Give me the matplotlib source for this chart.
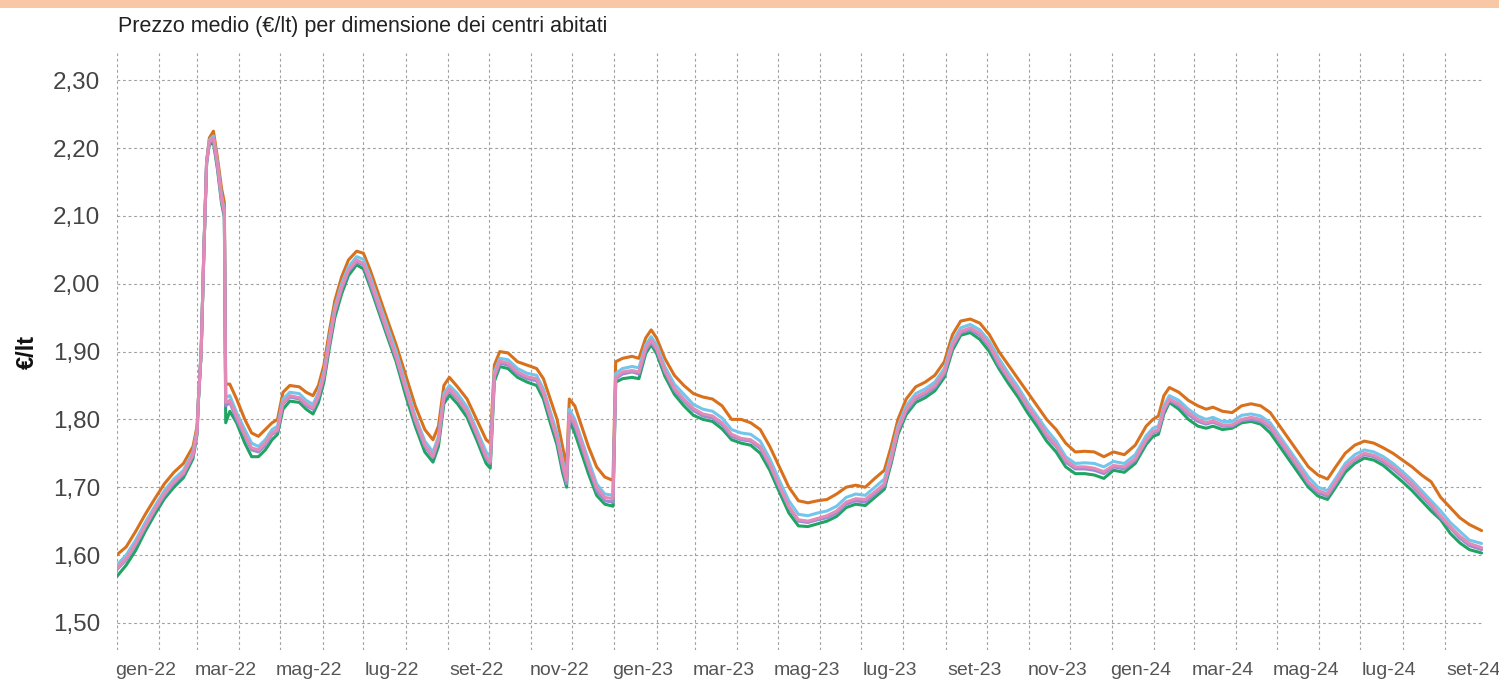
import matplotlib
matplotlib.use("Agg")
import matplotlib.pyplot as plt
import matplotlib.dates as mdates
from matplotlib.patches import Rectangle
from matplotlib.ticker import FixedLocator, FuncFormatter, NullFormatter
import pandas as pd

# ---------------- data ----------------
dates = [
    "2022-01-01", "2022-01-08", "2022-01-15", "2022-01-22", "2022-01-29", "2022-02-05",
    "2022-02-12", "2022-02-19", "2022-02-26", "2022-03-01", "2022-03-02", "2022-03-04",
    "2022-03-06", "2022-03-08", "2022-03-10", "2022-03-13", "2022-03-16", "2022-03-19",
    "2022-03-21", "2022-03-22", "2022-03-25", "2022-03-30", "2022-04-05", "2022-04-10",
    "2022-04-15", "2022-04-20", "2022-04-25", "2022-04-29", "2022-05-03", "2022-05-08",
    "2022-05-15", "2022-05-20", "2022-05-25", "2022-05-29", "2022-06-02", "2022-06-06",
    "2022-06-10", "2022-06-15", "2022-06-20", "2022-06-26", "2022-07-01", "2022-07-06",
    "2022-07-12", "2022-07-18", "2022-07-25", "2022-08-01", "2022-08-08", "2022-08-15",
    "2022-08-21", "2022-08-25", "2022-08-29", "2022-09-02", "2022-09-08", "2022-09-15",
    "2022-09-22", "2022-09-29", "2022-10-02", "2022-10-05", "2022-10-09", "2022-10-15",
    "2022-10-22", "2022-10-29", "2022-11-05", "2022-11-10", "2022-11-15", "2022-11-20",
    "2022-11-24", "2022-11-27", "2022-11-29", "2022-12-03", "2022-12-08", "2022-12-13",
    "2022-12-19", "2022-12-25", "2022-12-31", "2023-01-02", "2023-01-07", "2023-01-14",
    "2023-01-19", "2023-01-24", "2023-01-28", "2023-02-01", "2023-02-07", "2023-02-14",
    "2023-02-21", "2023-02-28", "2023-03-07", "2023-03-14", "2023-03-21", "2023-03-28",
    "2023-04-04", "2023-04-11", "2023-04-18", "2023-04-25", "2023-05-02", "2023-05-09",
    "2023-05-16", "2023-05-23", "2023-05-30", "2023-06-06", "2023-06-13", "2023-06-20",
    "2023-06-27", "2023-07-04", "2023-07-11", "2023-07-18", "2023-07-23", "2023-07-28",
    "2023-08-03", "2023-08-10", "2023-08-17", "2023-08-24", "2023-08-31", "2023-09-06",
    "2023-09-12", "2023-09-19", "2023-09-26", "2023-10-03", "2023-10-10", "2023-10-17",
    "2023-10-24", "2023-10-31", "2023-11-07", "2023-11-14", "2023-11-21", "2023-11-28",
    "2023-12-05", "2023-12-12", "2023-12-19", "2023-12-26", "2024-01-02", "2024-01-10",
    "2024-01-18", "2024-01-26", "2024-01-31", "2024-02-04", "2024-02-08", "2024-02-12",
    "2024-02-19", "2024-02-26", "2024-03-04", "2024-03-10", "2024-03-15", "2024-03-22",
    "2024-03-29", "2024-04-05", "2024-04-12", "2024-04-19", "2024-04-26", "2024-05-03",
    "2024-05-10", "2024-05-17", "2024-05-24", "2024-05-31", "2024-06-07", "2024-06-13",
    "2024-06-20", "2024-06-27", "2024-07-04", "2024-07-11", "2024-07-18", "2024-07-25",
    "2024-08-01", "2024-08-08", "2024-08-15", "2024-08-22", "2024-08-29", "2024-09-05",
    "2024-09-12", "2024-09-19", "2024-09-28",
]

orange = [
    1.600, 1.612, 1.635, 1.660, 1.683, 1.705, 1.722, 1.735, 1.760, 1.790, 1.830, 1.900,
    2.050, 2.180, 2.215, 2.225, 2.185, 2.140, 2.120, 1.852, 1.852, 1.830, 1.800, 1.780,
    1.775, 1.785, 1.795, 1.800, 1.840, 1.850, 1.848, 1.840, 1.835, 1.850, 1.880, 1.930,
    1.975, 2.010, 2.035, 2.048, 2.045, 2.020, 1.985, 1.950, 1.910, 1.865, 1.820, 1.785,
    1.770, 1.790, 1.850, 1.862, 1.848, 1.830, 1.800, 1.770, 1.765, 1.880, 1.900, 1.898,
    1.885, 1.880, 1.875, 1.860, 1.830, 1.800, 1.760, 1.730, 1.830, 1.820, 1.790, 1.760,
    1.730, 1.715, 1.710, 1.885, 1.890, 1.893, 1.890, 1.920, 1.932, 1.920, 1.890, 1.865,
    1.850, 1.838, 1.833, 1.830, 1.820, 1.800, 1.800, 1.795, 1.785, 1.760, 1.730, 1.700,
    1.680, 1.677, 1.680, 1.682, 1.690, 1.700, 1.703, 1.700, 1.713, 1.725, 1.760, 1.800,
    1.830, 1.848, 1.855, 1.865, 1.885, 1.925, 1.945, 1.948, 1.942, 1.925, 1.900, 1.880,
    1.860, 1.840, 1.820, 1.800, 1.785, 1.765, 1.752, 1.753, 1.752, 1.745, 1.752, 1.748,
    1.762, 1.790, 1.800, 1.805, 1.835, 1.847, 1.840, 1.828, 1.820, 1.815, 1.818, 1.812,
    1.810, 1.820, 1.823, 1.820, 1.810, 1.790, 1.770, 1.750, 1.730, 1.718, 1.712, 1.730,
    1.750, 1.762, 1.768, 1.765, 1.758, 1.750, 1.740, 1.730, 1.718, 1.708, 1.685, 1.670,
    1.655, 1.645, 1.636,
]

blue = [
    1.585, 1.600, 1.622, 1.648, 1.672, 1.695, 1.712, 1.725, 1.752, 1.785, 1.830, 1.900,
    2.050, 2.180, 2.212, 2.218, 2.178, 2.130, 2.108, 1.832, 1.835, 1.810, 1.785, 1.765,
    1.760, 1.770, 1.785, 1.790, 1.830, 1.840, 1.838, 1.828, 1.822, 1.840, 1.870, 1.920,
    1.965, 2.000, 2.025, 2.040, 2.036, 2.010, 1.975, 1.940, 1.900, 1.852, 1.805, 1.768,
    1.752, 1.775, 1.838, 1.850, 1.838, 1.818, 1.785, 1.752, 1.745, 1.870, 1.890, 1.888,
    1.875, 1.868, 1.865, 1.845, 1.812, 1.780, 1.740, 1.715, 1.815, 1.800, 1.770, 1.740,
    1.705, 1.690, 1.688, 1.868, 1.875, 1.878, 1.876, 1.910, 1.922, 1.910, 1.878, 1.852,
    1.837, 1.822, 1.815, 1.812, 1.802, 1.785, 1.780, 1.778, 1.768, 1.742, 1.710, 1.680,
    1.660, 1.658, 1.662, 1.665, 1.672, 1.685, 1.690, 1.688, 1.700, 1.712, 1.748, 1.790,
    1.820, 1.838, 1.845, 1.855, 1.875, 1.915, 1.935, 1.940, 1.932, 1.915, 1.890, 1.868,
    1.848, 1.825, 1.805, 1.785, 1.768, 1.745, 1.735, 1.736, 1.735, 1.730, 1.738, 1.735,
    1.748, 1.776, 1.787, 1.790, 1.820, 1.835, 1.828, 1.815, 1.805, 1.800, 1.803, 1.797,
    1.797, 1.806, 1.808, 1.805, 1.795, 1.775, 1.755, 1.735, 1.715, 1.700, 1.695, 1.713,
    1.735, 1.748, 1.755, 1.752, 1.745, 1.735, 1.723, 1.710, 1.695, 1.680, 1.665, 1.648,
    1.635, 1.622, 1.617,
]

pink = [
    1.580, 1.595, 1.617, 1.643, 1.668, 1.690, 1.708, 1.721, 1.748, 1.782, 1.830, 1.900,
    2.050, 2.180, 2.210, 2.215, 2.175, 2.125, 2.105, 1.825, 1.828, 1.805, 1.778, 1.758,
    1.755, 1.765, 1.780, 1.785, 1.825, 1.835, 1.832, 1.823, 1.817, 1.835, 1.865, 1.915,
    1.960, 1.995, 2.020, 2.035, 2.030, 2.005, 1.970, 1.933, 1.893, 1.846, 1.800, 1.763,
    1.746, 1.770, 1.833, 1.845, 1.832, 1.812, 1.780, 1.745, 1.738, 1.865, 1.886, 1.883,
    1.870, 1.863, 1.860, 1.840, 1.806, 1.773, 1.735, 1.710, 1.808, 1.795, 1.765, 1.733,
    1.700, 1.685, 1.683, 1.862, 1.870, 1.872, 1.870, 1.905, 1.917, 1.905, 1.872, 1.846,
    1.830, 1.816, 1.808, 1.805, 1.795, 1.778, 1.772, 1.770, 1.760, 1.735, 1.702, 1.672,
    1.652, 1.650, 1.654, 1.658, 1.665, 1.678, 1.683, 1.682, 1.693, 1.705, 1.742, 1.785,
    1.815, 1.833, 1.840, 1.850, 1.870, 1.910, 1.930, 1.935, 1.927, 1.910, 1.884, 1.862,
    1.842, 1.820, 1.800, 1.778, 1.762, 1.740, 1.730, 1.730, 1.728, 1.723, 1.732, 1.730,
    1.742, 1.770, 1.782, 1.785, 1.815, 1.830, 1.823, 1.810, 1.800, 1.795, 1.798, 1.792,
    1.792, 1.800, 1.803, 1.800, 1.790, 1.770, 1.750, 1.730, 1.708, 1.695, 1.690, 1.708,
    1.730, 1.742, 1.750, 1.747, 1.740, 1.730, 1.718, 1.705, 1.690, 1.675, 1.658, 1.642,
    1.628, 1.617, 1.611,
]

purple = [
    1.578, 1.593, 1.615, 1.641, 1.666, 1.688, 1.706, 1.719, 1.746, 1.780, 1.830, 1.900,
    2.050, 2.180, 2.208, 2.212, 2.172, 2.122, 2.102, 1.820, 1.825, 1.800, 1.775, 1.755,
    1.752, 1.762, 1.778, 1.783, 1.823, 1.833, 1.830, 1.820, 1.815, 1.832, 1.862, 1.912,
    1.958, 1.992, 2.018, 2.032, 2.028, 2.000, 1.965, 1.930, 1.890, 1.843, 1.797, 1.760,
    1.744, 1.768, 1.830, 1.842, 1.830, 1.810, 1.777, 1.742, 1.735, 1.862, 1.883, 1.880,
    1.867, 1.860, 1.857, 1.837, 1.803, 1.770, 1.730, 1.705, 1.805, 1.790, 1.760, 1.730,
    1.695, 1.680, 1.678, 1.860, 1.867, 1.870, 1.867, 1.902, 1.914, 1.902, 1.870, 1.843,
    1.827, 1.813, 1.805, 1.802, 1.792, 1.775, 1.770, 1.768, 1.757, 1.732, 1.700, 1.670,
    1.650, 1.648, 1.652, 1.655, 1.662, 1.675, 1.680, 1.678, 1.690, 1.702, 1.740, 1.783,
    1.812, 1.830, 1.837, 1.847, 1.867, 1.907, 1.928, 1.932, 1.924, 1.907, 1.880, 1.860,
    1.840, 1.817, 1.797, 1.775, 1.760, 1.737, 1.727, 1.727, 1.725, 1.720, 1.730, 1.727,
    1.740, 1.768, 1.780, 1.783, 1.812, 1.828, 1.820, 1.807, 1.797, 1.793, 1.796, 1.790,
    1.790, 1.798, 1.800, 1.797, 1.787, 1.767, 1.747, 1.727, 1.705, 1.692, 1.687, 1.705,
    1.728, 1.740, 1.748, 1.745, 1.737, 1.727, 1.715, 1.702, 1.687, 1.672, 1.655, 1.640,
    1.625, 1.614, 1.608,
]

green = [
    1.568, 1.585, 1.607, 1.635, 1.660, 1.683, 1.700, 1.714, 1.742, 1.778, 1.828, 1.898,
    2.048, 2.178, 2.205, 2.208, 2.168, 2.118, 2.098, 1.795, 1.812, 1.795, 1.765, 1.745,
    1.745, 1.755, 1.770, 1.778, 1.815, 1.827, 1.825, 1.815, 1.808, 1.825, 1.855, 1.905,
    1.950, 1.985, 2.012, 2.028, 2.022, 1.995, 1.960, 1.925, 1.885, 1.835, 1.790, 1.752,
    1.737, 1.760, 1.823, 1.836, 1.823, 1.803, 1.770, 1.735, 1.728, 1.856, 1.878, 1.875,
    1.862, 1.855, 1.850, 1.830, 1.795, 1.762, 1.722, 1.700, 1.798, 1.780, 1.750, 1.720,
    1.688, 1.675, 1.672, 1.855, 1.860, 1.862, 1.860, 1.897, 1.910, 1.897, 1.864, 1.837,
    1.820, 1.806, 1.800, 1.797, 1.786, 1.770, 1.765, 1.762, 1.750, 1.725, 1.693, 1.662,
    1.643, 1.642, 1.646, 1.650, 1.657, 1.670, 1.675, 1.673, 1.685, 1.697, 1.735, 1.778,
    1.807, 1.825, 1.832, 1.842, 1.862, 1.902, 1.924, 1.928, 1.918, 1.900, 1.875, 1.853,
    1.833, 1.810, 1.790, 1.768, 1.752, 1.730, 1.720, 1.720, 1.718, 1.713, 1.725, 1.722,
    1.735, 1.763, 1.775, 1.778, 1.808, 1.825, 1.815, 1.800, 1.790, 1.787, 1.790, 1.785,
    1.787, 1.795, 1.797, 1.793, 1.780, 1.760, 1.740, 1.720, 1.700, 1.687, 1.682, 1.700,
    1.722, 1.735, 1.743, 1.740, 1.732, 1.720, 1.708, 1.695, 1.680, 1.665, 1.652, 1.632,
    1.618, 1.608, 1.603,
]

series_names = ["Orange", "Green", "Blue", "Purple", "Pink"]
tick_labels = ["gen-22", "mar-22", "mag-22", "lug-22", "set-22", "nov-22",
               "gen-23", "mar-23", "mag-23", "lug-23", "set-23", "nov-23",
               "gen-24", "mar-24", "mag-24", "lug-24", "set-24"]
label_dates = ["2022-01-22", "2022-03-22", "2022-05-22", "2022-07-22", "2022-09-22",
               "2022-11-22", "2023-01-22", "2023-03-22", "2023-05-22", "2023-07-22",
               "2023-09-22", "2023-11-22", "2024-01-22", "2024-03-22", "2024-05-22",
               "2024-07-22", "2024-09-22"]
y_ticks = [1.50, 1.60, 1.70, 1.80, 1.90, 2.00, 2.10, 2.20, 2.30]

# ---------------- figure ----------------
plt.rcParams["font.family"] = ["Liberation Sans", "DejaVu Sans"]
fig = plt.figure(figsize=(14.99, 6.86), dpi=100)
fig.patches.append(Rectangle((0, 0.988), 1, 0.012, transform=fig.transFigure,
                             facecolor="#f8c8a6", edgecolor="none", zorder=0))
ax = fig.add_axes([0.0778, 0.0525, 0.9115, 0.870])

x = pd.to_datetime(dates)
styles = [
    (orange, "#d9701c"),
    (green, "#1fa463"),
    (blue, "#72c6ea"),
    (purple, "#9c8ad4"),
    (pink, "#e48ab6"),
]
for (vals, col), name in zip(styles, series_names):
    ax.plot(x, vals, color=col, lw=2.2, label=name, zorder=3,
            solid_joinstyle="round", solid_capstyle="round")

ax.set_xlim(pd.Timestamp("2022-01-01"), pd.Timestamp("2024-09-29"))
ax.set_ylim(1.46, 2.34)

ax.xaxis.set_major_locator(mdates.MonthLocator())
ax.xaxis.set_major_formatter(NullFormatter())
ax.xaxis.set_minor_locator(FixedLocator(mdates.date2num(pd.to_datetime(label_dates))))
ax.xaxis.set_minor_formatter(FuncFormatter(lambda v, i: tick_labels[i] if i < len(tick_labels) else ""))
ax.tick_params(axis="x", which="both", length=0, pad=9, labelsize=14, labelcolor="#555555")

ax.set_yticks(y_ticks)
ax.yaxis.set_major_formatter(FuncFormatter(lambda v, p: f"{v:.2f}".replace(".", ",")))
ax.tick_params(axis="y", length=0, pad=12, labelsize=17.5, labelcolor="#444444")

ax.grid(True, which="major", color="#a0a0a0", linestyle=(0, (2.5, 2.5)), linewidth=0.8)
for s in ax.spines.values():
    s.set_visible(False)

ax.set_ylabel("€/lt", fontsize=17, fontweight="bold", color="#111111", labelpad=10)
fig.text(0.0787, 0.962, "Prezzo medio (€/lt) per dimensione dei centri abitati",
         fontsize=15.5, color="#222222", ha="left", va="center")

fig.savefig("out.png", dpi=100)
